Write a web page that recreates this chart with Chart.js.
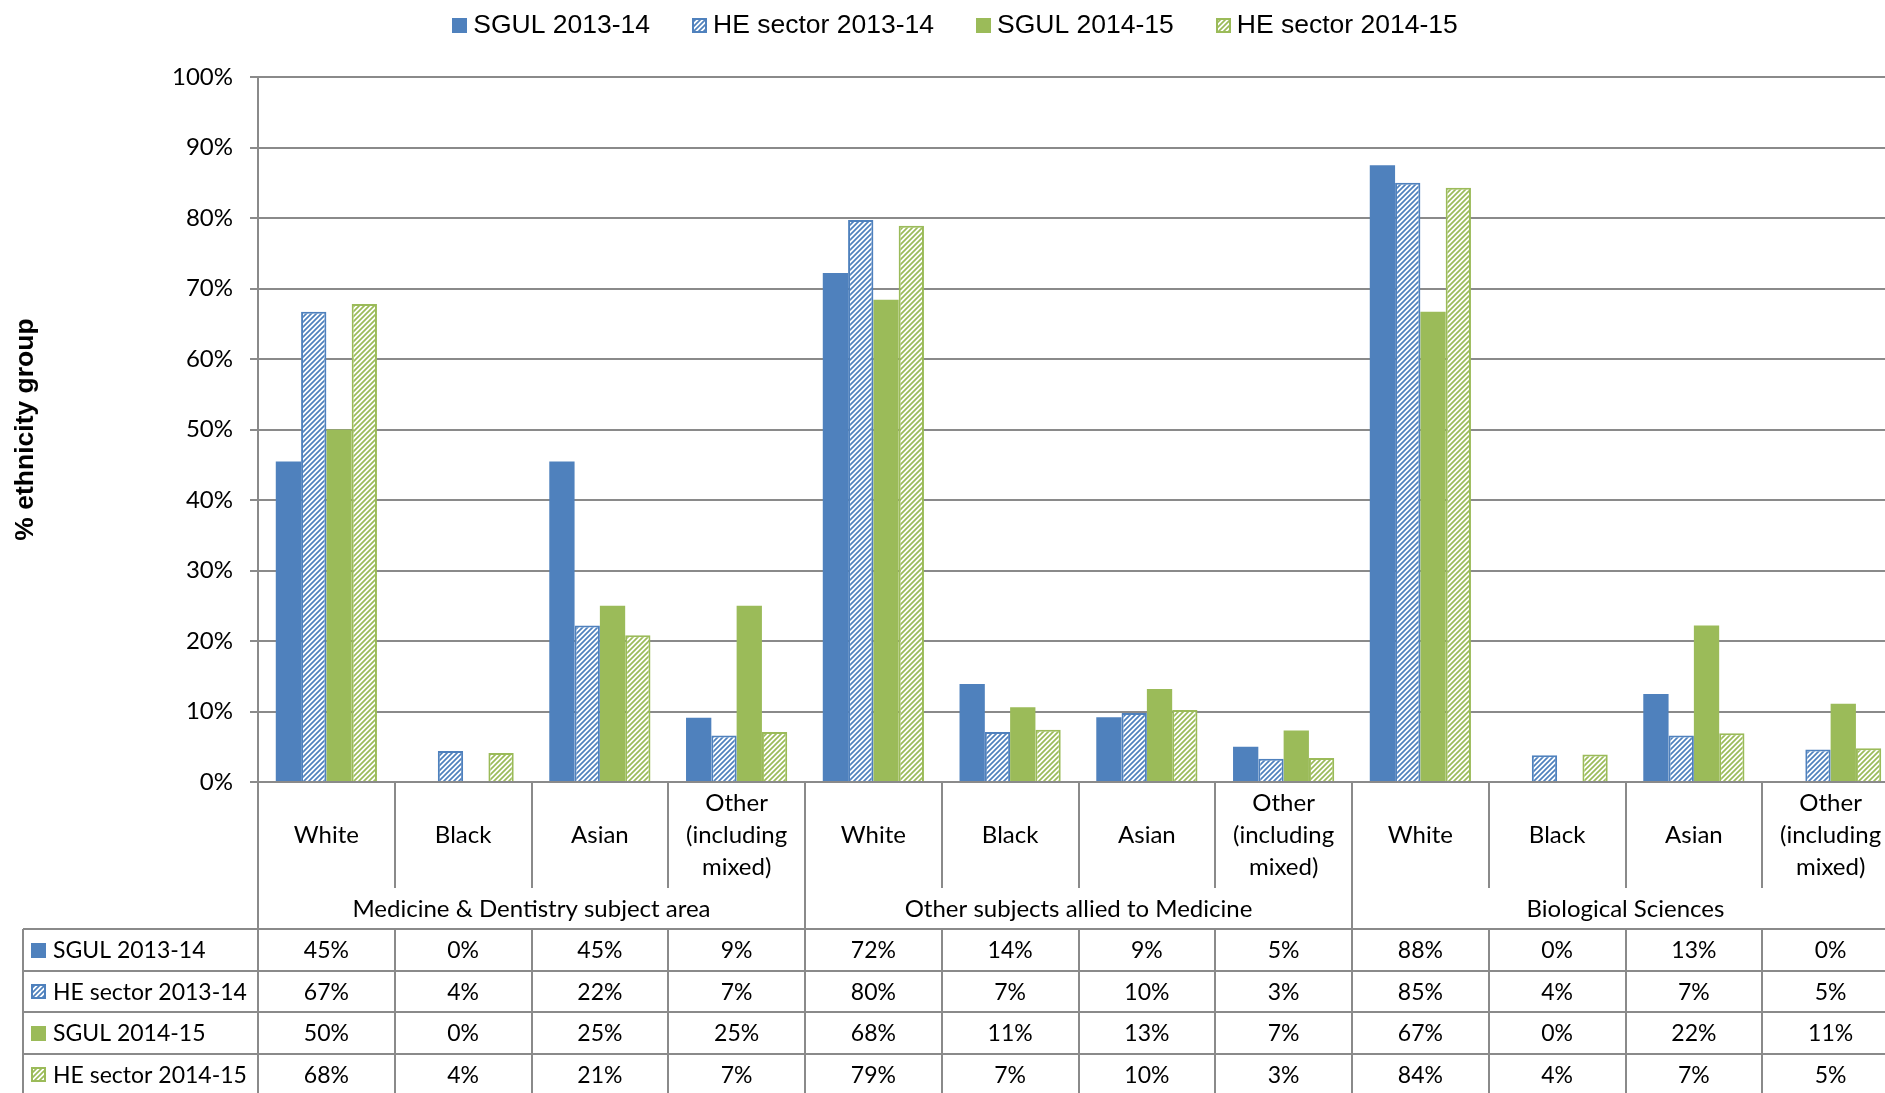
<!DOCTYPE html>
<html>
<head>
<meta charset="utf-8">
<script src="https://cdn.jsdelivr.net/npm/chart.js@4"></script>
<style>
  html, body { margin: 0; padding: 0; background: #ffffff; overflow: hidden; }
  #wrap { width: 1885px; height: 1093px; overflow: hidden; }
  canvas { display: block; }
</style>
</head>
<body>
<div id="wrap">
  <canvas id="ethnicityChart" width="1910" height="1093" style="width:1910px;height:1093px"></canvas>
</div>
<script>
// categories (ethnicity within subject area)
const categories = [
  "White", "Black", "Asian", ["Other", "(including", "mixed)"],
  "White", "Black", "Asian", ["Other", "(including", "mixed)"],
  "White", "Black", "Asian", ["Other", "(including", "mixed)"],
];
const groups = [
  "Medicine & Dentistry subject area",
  "Other subjects allied to Medicine",
  "Biological Sciences",
];

// series values, % of students in each ethnicity group
const sgul1314 = [45.45, 0, 45.45, 9.1, 72.2, 13.9, 9.2, 5.0, 87.5, 0, 12.5, 0];
const he1314 = [66.7, 4.4, 22.2, 6.6, 79.7, 7.1, 9.8, 3.3, 85.0, 3.8, 6.6, 4.6];
const sgul1415 = [50, 0, 25, 25, 68.4, 10.6, 13.2, 7.3, 66.7, 0, 22.2, 11.1];
const he1415 = [67.8, 4.1, 20.8, 7.1, 78.9, 7.4, 10.2, 3.4, 84.3, 3.9, 6.9, 4.8];

const seriesNames = ["SGUL 2013-14", "HE sector 2013-14", "SGUL 2014-15", "HE sector 2014-15"];
const yTicks = [0, 10, 20, 30, 40, 50, 60, 70, 80, 90, 100];

const BLUE = "#4f81bd";
const GREEN = "#9bbb59";
const LINE = "#8a8a8a";
const TXT_FONT = "Lato, 'Open Sans', sans-serif";

document.addEventListener("DOMContentLoaded", function () {
  initializeEthnicityChart();
});

// diagonal hatch like Excel's "dark upward diagonal"
function makeHatch(color) {
  const c = document.createElement("canvas");
  c.width = 5;
  c.height = 5;
  const g = c.getContext("2d");
  g.fillStyle = "#ffffff";
  g.fillRect(0, 0, 5, 5);
  g.strokeStyle = color;
  g.lineWidth = 1.7;
  g.beginPath();
  g.moveTo(-1, 6);
  g.lineTo(6, -1);
  g.moveTo(-4, 4);
  g.lineTo(4, -4);
  g.moveTo(1, 9);
  g.lineTo(9, 1);
  g.stroke();
  return g.createPattern(c, "repeat");
}

function drawIcon(ctx, x, y, ds) {
  // 15px legend key
  ctx.save();
  ctx.fillStyle = ds.backgroundColor;
  ctx.fillRect(x, y, 15, 15);
  if (ds.borderWidth) {
    ctx.strokeStyle = ds.borderColor;
    ctx.lineWidth = 2;
    ctx.strokeRect(x + 1, y + 1, 13, 13);
  }
  ctx.restore();
}

const tablePlugin = {
  id: "dataTable",
  afterDraw(chart) {
    const ctx = chart.ctx;
    const area = chart.chartArea;
    const xScale = chart.scales.x;
    const n = categories.length;
    const step = (area.right - area.left) / n;

    const labelBottom = area.bottom + 106;
    const groupBottom = area.bottom + 147;
    const rowH = 41.5;
    const tableLeft = 23;
    const tableBottom = groupBottom + rowH * 4;

    ctx.save();
    ctx.strokeStyle = LINE;
    ctx.lineWidth = 2;

    // vertical dividers
    for (let i = 0; i <= n; i++) {
      const bx = Math.round(area.left + i * step);
      ctx.beginPath();
      ctx.moveTo(bx, area.bottom);
      ctx.lineTo(bx, i % 4 === 0 ? labelBottom + 41 : labelBottom);
      ctx.stroke();
      ctx.beginPath();
      ctx.moveTo(bx, groupBottom);
      ctx.lineTo(bx, tableBottom);
      ctx.stroke();
    }

    // horizontal rows
    for (let r = 0; r <= 4; r++) {
      const y = Math.round(groupBottom + r * rowH);
      ctx.beginPath();
      ctx.moveTo(tableLeft, y);
      ctx.lineTo(chart.width, y);
      ctx.stroke();
    }
    ctx.beginPath();
    ctx.moveTo(tableLeft, groupBottom);
    ctx.lineTo(tableLeft, tableBottom);
    ctx.stroke();

    ctx.fillStyle = "#000000";
    ctx.textAlign = "center";
    ctx.textBaseline = "middle";
    ctx.font = "24px " + TXT_FONT;

    // category labels
    categories.forEach((label, i) => {
      const cx = xScale.getPixelForValue(i);
      const lines = Array.isArray(label) ? label : [label];
      const mid = area.bottom + 53;
      lines.forEach((t, k) => {
        ctx.fillText(t, cx, mid + (k - (lines.length - 1) / 2) * 32);
      });
    });

    // group labels
    groups.forEach((g, gi) => {
      const left = area.left + gi * 4 * step;
      ctx.fillText(g, left + 2 * step, area.bottom + 127);
    });

    // value rows
    ctx.font = "23px " + TXT_FONT;
    chart.data.datasets.forEach((ds, r) => {
      const yMid = groupBottom + r * rowH + rowH / 2 + 1;
      drawIcon(ctx, 31, Math.round(yMid - 8), ds);
      ctx.fillStyle = "#000000";
      ctx.textAlign = "left";
      ctx.fillText(ds.label, 53, yMid);
      ctx.textAlign = "center";
      ds.data.forEach((v, i) => {
        ctx.fillText(Math.round(v) + "%", xScale.getPixelForValue(i), yMid);
      });
    });

    // legend on top
    ctx.font = "26.5px 'Liberation Sans', Arial, sans-serif";
    ctx.textAlign = "left";
    const gap = 42;
    const widths = chart.data.datasets.map((ds) => 21 + ctx.measureText(ds.label).width);
    const total = widths.reduce((a, b) => a + b, 0) + gap * (widths.length - 1);
    let lx = chart.width / 2 - total / 2;
    chart.data.datasets.forEach((ds, i) => {
      drawIcon(ctx, Math.round(lx), 18, ds);
      ctx.fillStyle = "#000000";
      ctx.fillText(ds.label, lx + 21, 26);
      lx += widths[i] + gap;
    });

    ctx.restore();
  },
};

function initializeEthnicityChart() {
  const ctx = document.getElementById("ethnicityChart");
  if (!ctx) return;

  const blueHatch = makeHatch(BLUE);
  const greenHatch = makeHatch(GREEN);

  new Chart(ctx, {
    type: "bar",
    data: {
      labels: categories.map((c) => (Array.isArray(c) ? c.join(" ") : c)),
      datasets: [
        {
          label: seriesNames[0],
          data: sgul1314,
          backgroundColor: BLUE,
          borderWidth: 0,
        },
        {
          label: seriesNames[1],
          data: he1314,
          backgroundColor: blueHatch,
          borderColor: BLUE,
          borderWidth: 2,
        },
        {
          label: seriesNames[2],
          data: sgul1415,
          backgroundColor: GREEN,
          borderWidth: 0,
        },
        {
          label: seriesNames[3],
          data: he1415,
          backgroundColor: greenHatch,
          borderColor: GREEN,
          borderWidth: 2,
        },
      ],
    },
    options: {
      responsive: false,
      animation: false,
      devicePixelRatio: 1,
      categoryPercentage: 0.74,
      barPercentage: 1.0,
      layout: {
        padding: { top: 77, bottom: 311, left: 0, right: 11 },
      },
      plugins: {
        legend: { display: false },
        tooltip: { enabled: false },
      },
      scales: {
        x: {
          grid: { display: false },
          ticks: { display: false },
          border: { display: true, color: LINE, width: 2 },
          afterFit: function (scale) {
            scale.height = 0;
          },
        },
        y: {
          min: 0,
          max: 100,
          afterBuildTicks: function (scale) {
            scale.ticks = yTicks.map((v) => ({ value: v }));
          },
          ticks: {
            padding: 17,
            color: "#000000",
            font: { family: TXT_FONT, size: 24 },
            callback: function (value) {
              return value + "%";
            },
          },
          grid: {
            color: LINE,
            lineWidth: 2,
            tickLength: 8,
          },
          border: { display: true, color: LINE, width: 2 },
          title: {
            display: true,
            text: "% ethnicity group",
            color: "#000000",
            font: { family: "'Liberation Sans', Arial, sans-serif", size: 26.5, weight: "bold" },
            padding: { top: 10, bottom: 0 },
          },
          afterFit: function (scale) {
            scale.width = 258;
          },
        },
      },
    },
    plugins: [tablePlugin],
  });
}
</script>
</body>
</html>
